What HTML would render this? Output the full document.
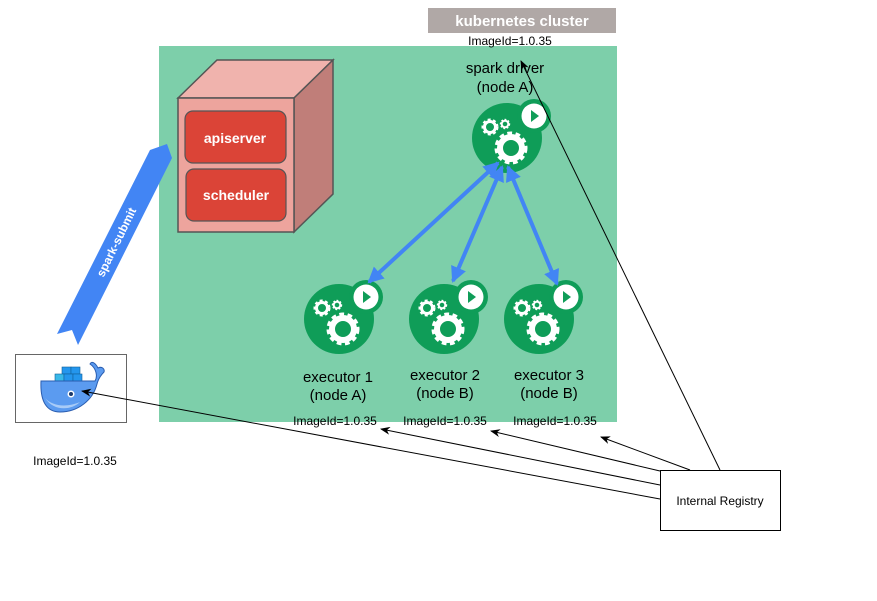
<!DOCTYPE html>
<html><head><meta charset="utf-8"><style>
html,body{margin:0;padding:0;background:#fff;}
svg{display:block;}
text{font-family:"Liberation Sans",sans-serif;}
</style></head><body>
<svg width="877" height="601" viewBox="0 0 877 601" xmlns="http://www.w3.org/2000/svg">
<defs>
<marker id="ah" markerWidth="10" markerHeight="8" refX="9" refY="4" orient="auto" markerUnits="userSpaceOnUse">
<path d="M0,0 L10,4 L0,8 L3,4 z" fill="#000"/></marker>
<marker id="bh" markerWidth="16" markerHeight="16" refX="14" refY="8" orient="auto-start-reverse" markerUnits="userSpaceOnUse">
<path d="M0,0 L16,8 L0,16 z" fill="#4285f4"/></marker>
<g id="pod">
<circle cx="0" cy="0" r="35" fill="#0f9d58"/>
<circle cx="27" cy="-22" r="17" fill="#0f9d58"/>
<circle cx="27" cy="-22" r="12.5" fill="#fff"/>
<path d="M24,-28 L32,-22 L24,-16 z" fill="#0f9d58"/>
<circle cx="4" cy="10" r="14" fill="none" stroke="#fff" stroke-width="5" stroke-dasharray="4.5 3.3"/>
<circle cx="4" cy="10" r="11" fill="none" stroke="#fff" stroke-width="6"/>
<circle cx="-17" cy="-11" r="7" fill="none" stroke="#fff" stroke-width="3" stroke-dasharray="2.8 2.3"/>
<circle cx="-17" cy="-11" r="5.5" fill="none" stroke="#fff" stroke-width="3"/>
<circle cx="-2" cy="-14" r="4.2" fill="none" stroke="#fff" stroke-width="2" stroke-dasharray="1.7 1.5"/>
<circle cx="-2" cy="-14" r="3.3" fill="none" stroke="#fff" stroke-width="2"/>
</g>
</defs>
<rect x="428" y="8" width="188" height="25" fill="#b0a8a6"/>
<text x="522" y="26" text-anchor="middle" font-size="15" font-weight="bold" fill="#fff">kubernetes cluster</text>
<rect x="159" y="46" width="458" height="376" fill="#7dcfaa"/>
<text x="510" y="45" text-anchor="middle" font-size="12">ImageId=1.0.35</text>
<!-- master box -->
<polygon points="178,98 217,60 333,60 294,98" fill="#f0b3ad" stroke="#555" stroke-width="1.5"/>
<polygon points="294,98 333,60 333,194 294,232" fill="#c07e79" stroke="#555" stroke-width="1.5"/>
<rect x="178" y="98" width="116" height="134" fill="#eda49d" stroke="#555" stroke-width="1.5"/>
<rect x="185" y="111" width="101" height="52" rx="8" fill="#db4437" stroke="#555" stroke-width="1.2"/>
<rect x="186" y="169" width="100" height="52" rx="8" fill="#db4437" stroke="#555" stroke-width="1.2"/>
<text x="235" y="143" text-anchor="middle" font-size="14" font-weight="bold" fill="#fff">apiserver</text>
<text x="236" y="200" text-anchor="middle" font-size="14" font-weight="bold" fill="#fff">scheduler</text>
<!-- spark-submit ribbon -->
<polygon points="150,150 167,144 172,158 78,345 72,330 57,334" fill="#4285f4"/>
<text transform="translate(120,244) rotate(-64)" text-anchor="middle" font-size="12" font-weight="bold" fill="#fff">spark-submit</text>
<!-- pods -->
<use href="#pod" x="507" y="138"/>
<use href="#pod" x="339" y="319"/>
<use href="#pod" x="444" y="319"/>
<use href="#pod" x="539" y="319"/>
<text x="505" y="73" text-anchor="middle" font-size="15">spark driver</text>
<text x="505" y="92" text-anchor="middle" font-size="15">(node A)</text>
<text x="338" y="382" text-anchor="middle" font-size="15">executor 1</text>
<text x="338" y="400" text-anchor="middle" font-size="15">(node A)</text>
<text x="445" y="380" text-anchor="middle" font-size="15">executor 2</text>
<text x="445" y="398" text-anchor="middle" font-size="15">(node B)</text>
<text x="549" y="380" text-anchor="middle" font-size="15">executor 3</text>
<text x="549" y="398" text-anchor="middle" font-size="15">(node B)</text>
<!-- blue arrows -->
<g stroke="#4285f4" stroke-width="4" fill="none">
<line x1="498" y1="163" x2="369" y2="282" marker-start="url(#bh)" marker-end="url(#bh)"/>
<line x1="502" y1="167" x2="453" y2="281" marker-start="url(#bh)" marker-end="url(#bh)"/>
<line x1="508" y1="167" x2="557" y2="284" marker-start="url(#bh)" marker-end="url(#bh)"/>
</g>
<text x="335" y="425" text-anchor="middle" font-size="12">ImageId=1.0.35</text>
<text x="445" y="425" text-anchor="middle" font-size="12">ImageId=1.0.35</text>
<text x="555" y="425" text-anchor="middle" font-size="12">ImageId=1.0.35</text>
<text x="75" y="465" text-anchor="middle" font-size="12">ImageId=1.0.35</text>
<!-- docker -->
<rect x="15.5" y="354.5" width="111" height="68" fill="#fff" stroke="#666"/>
<g>
<rect x="62" y="367" width="9" height="7" fill="#2496ed" stroke="#11609a" stroke-width="0.6"/>
<rect x="71" y="367" width="9" height="7" fill="#2496ed" stroke="#11609a" stroke-width="0.6"/>
<rect x="55" y="374" width="9" height="7" fill="#39b8e8" stroke="#11609a" stroke-width="0.6"/>
<rect x="64" y="374" width="9" height="7" fill="#2496ed" stroke="#11609a" stroke-width="0.6"/>
<rect x="73" y="374" width="9" height="7" fill="#2496ed" stroke="#11609a" stroke-width="0.6"/>
<path d="M41,381 L95,381 C98,376 96,368 90,364 C92,360 96,364 98,368 C102,366 105,369 104,372 C100,376 98,380 97,384 C93,400 78,412 60,412 C47,412 40,402 41,381 z" fill="#5b9bf0" stroke="#2a5db0" stroke-width="1"/>
<path d="M45,398 C52,406 66,408 80,402 C72,410 54,412 45,398 z" fill="#a8cbf7"/>
<circle cx="71" cy="394" r="3.5" fill="#fff"/><circle cx="71" cy="394" r="2" fill="#1b3a6b"/>
</g>
<!-- registry -->
<rect x="660.5" y="470.5" width="120" height="60" fill="#fff" stroke="#000"/>
<text x="720" y="505" text-anchor="middle" font-size="12">Internal Registry</text>
<g stroke="#000" stroke-width="1" fill="none">
<line x1="720" y1="470" x2="521" y2="61" marker-end="url(#ah)"/>
<line x1="690" y1="470" x2="601" y2="437" marker-end="url(#ah)"/>
<line x1="660" y1="471" x2="491" y2="431" marker-end="url(#ah)"/>
<line x1="660" y1="485" x2="381" y2="429" marker-end="url(#ah)"/>
<line x1="660" y1="499" x2="82" y2="391" marker-end="url(#ah)"/>
</g>
</svg>
</body></html>
